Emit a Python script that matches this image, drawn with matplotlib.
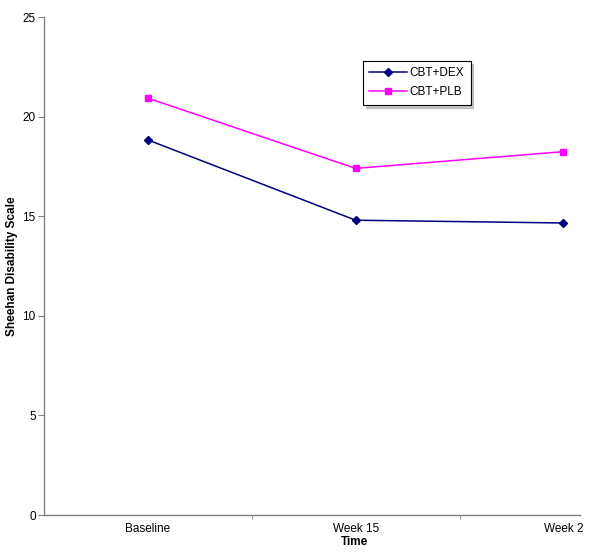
import matplotlib
matplotlib.use('Agg')
import matplotlib.pyplot as plt

plt.rcParams['font.family'] = ['Liberation Sans', 'DejaVu Sans']

time_labels = ['Baseline', 'Week 15', 'Week 2']
cbt_dex = [18.83, 14.80, 14.66]
cbt_plb = [20.93, 17.40, 18.24]

fig = plt.figure(figsize=(6, 5.56), dpi=100)
ax = fig.add_axes([0.0733, 0.0737, 0.8934, 0.8957])

x = list(range(len(time_labels)))
ax.plot(x, cbt_dex, color='#000080', marker='D', markersize=4.5, lw=1.1,
        label='CBT+DEX')
ax.plot(x, cbt_plb, color='#FF00FF', marker='s', markersize=5, lw=1.1,
        label='CBT+PLB')

ax.set_xlim(-0.5, 2.08)
ax.set_ylim(0, 25)
ax.set_yticks([0, 5, 10, 15, 20, 25])
ax.set_xticks(x)
ax.set_xticklabels(time_labels)
ax.set_xticks([0.5, 1.5], minor=True)
ax.tick_params(axis='x', which='major', length=0, labelsize=8.5, pad=6)
ax.tick_params(axis='x', which='minor', length=3, color='#808080')
ax.tick_params(axis='y', length=4, color='#808080', labelsize=8.5, pad=2)

for side in ['top', 'right']:
    ax.spines[side].set_visible(False)
for side in ['left', 'bottom']:
    ax.spines[side].set_color('#808080')
    ax.spines[side].set_linewidth(1)

ax.set_ylabel('Sheehan Disability Scale', fontsize=8.5, fontweight='bold')
ax.yaxis.set_label_coords(-0.048, 0.5)
ax.set_xlabel('Time', fontsize=8.5, fontweight='bold')
ax.xaxis.set_label_coords(0.58, -0.043)

leg = ax.legend(loc='upper left', bbox_to_anchor=(0.595, 0.912), fontsize=8.5,
                frameon=True, fancybox=False,
                shadow={'ox': 2, 'oy': -2, 'color': '#909090'},
                borderpad=0.55, handlelength=3.2, labelspacing=0.6,
                handletextpad=0.2, borderaxespad=0)
leg.get_frame().set_edgecolor('black')
leg.get_frame().set_linewidth(0.8)

fig.savefig('out.png', dpi=100, facecolor='white')
